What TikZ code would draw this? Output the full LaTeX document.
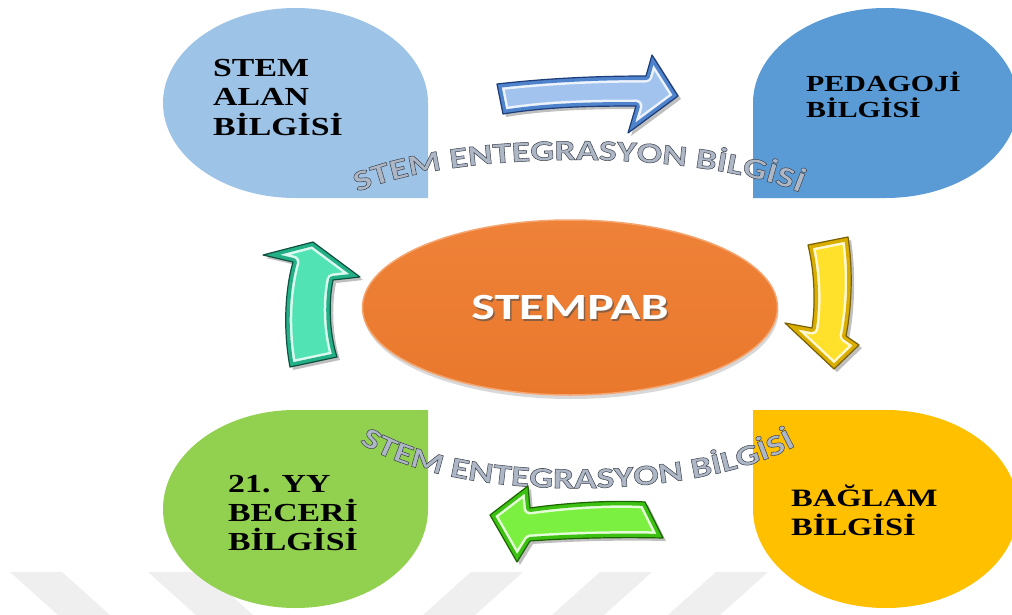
\documentclass[tikz,border=0pt]{standalone}
\usepackage{fontspec}
\setmainfont{Liberation Serif}
\newfontfamily\lblfont[FakeStretch=1.3]{Liberation Serif}
\newfontfamily\arcfont[FakeStretch=1.3,FakeBold=1.8]{Carlito}
\newfontfamily\ctrfont[FakeStretch=1.35]{Carlito}
\usetikzlibrary{decorations.text,shapes.geometric,shadows}
\definecolor{tlblue}{HTML}{9DC3E6}
\definecolor{trblue}{HTML}{5B9BD5}
\definecolor{blgreen}{HTML}{92D050}
\definecolor{bryellow}{HTML}{FFC000}
\definecolor{orangeA}{HTML}{EE8238}
\definecolor{orangeB}{HTML}{E9782C}
\definecolor{orangeRim}{HTML}{F5A56F}
\definecolor{arcgray}{HTML}{AEB7C6}
\definecolor{blueL}{HTML}{A2C3EE}
\definecolor{blueM}{HTML}{4F83CC}
\definecolor{blueD}{HTML}{1D3C78}
\definecolor{yelL}{HTML}{FFE02A}
\definecolor{yelM}{HTML}{D9AE00}
\definecolor{yelD}{HTML}{7A6000}
\definecolor{tealL}{HTML}{52E3B4}
\definecolor{tealM}{HTML}{24B086}
\definecolor{tealD}{HTML}{0F5040}
\definecolor{grnL}{HTML}{7CF040}
\definecolor{grnM}{HTML}{3CC012}
\definecolor{grnD}{HTML}{1C6400}
\definecolor{wmark}{HTML}{EFEFEF}
\newcommand\bevelarrow[4]{%
  \fill[black,opacity=.25,shift={(3,3)}] #1;
  \fill[#2] #1;
  \begin{scope}\clip #1; \draw[white,opacity=.8,line width=13pt,line join=round] #1; \end{scope}
  \begin{scope}\clip #1; \draw[#3,line width=8pt,line join=round] #1; \end{scope}
  \draw[#4,line width=1.2pt,line join=round] #1;
}
% outlined grey lettering: fill colour grey, stroke colour dark
\newcommand\arcfmt{\arcfont\bfseries\fontsize{29}{29}\selectfont\color{arcgray}\special{pdf:code 0.25 0.27 0.31 RG}}
\newcommand\arctext[1]{%
  \path[decorate,decoration={text along path,text align=center,
    text={|\arcfmt|STEM ENTEGRASYON B{İ}LG{İ}S{İ}}}] #1;
}
\tikzset{
  lbl/.style={anchor=base west,inner sep=0pt,text=black,
    font=\lblfont\bfseries\fontsize{#1}{#1}\selectfont},
}
\begin{document}
\begin{tikzpicture}[x=1pt,y=-1pt]
\useasboundingbox (0,0) rectangle (1012,615);
\fill[white] (0,0) rectangle (1012,615);
% faint watermark bands
\fill[wmark] (10,572) -- (62,572) -- (110,615) -- (58,615) -- cycle;
\fill[wmark] (148,572) -- (205,572) -- (253,615) -- (196,615) -- cycle;
\fill[wmark] (471,572) -- (523,572) -- (475,615) -- (423,615) -- cycle;
\fill[wmark] (600,572) -- (652,572) -- (604,615) -- (552,615) -- cycle;
\fill[wmark] (716,572) -- (768,572) -- (720,615) -- (668,615) -- cycle;
% four corner shapes
\fill[tlblue] (428,198) -- (428,103) arc[start angle=0,end angle=-270,x radius=132.5,y radius=95] -- cycle;
\fill[trblue] (753,198) -- (753,103) arc[start angle=180,end angle=450,x radius=132.5,y radius=95] -- cycle;
\fill[blgreen] (428,410) -- (295.5,410) arc[start angle=270,end angle=0,x radius=132.5,y radius=99] -- cycle;
\fill[bryellow] (753,410) -- (885.5,410) arc[start angle=270,end angle=540,x radius=132.5,y radius=99] -- cycle;
% labels
\node[lbl=26] (tl1) at (213,77) {STEM};
\node[lbl=26] (tl2) at (213,106) {ALAN};
\node[lbl=26] (tl3) at (213,136) {BİLGİSİ};
\node[lbl=23] (tr1) at (806,92) {PEDAGOJİ};
\node[lbl=23] (tr2) at (806,118) {BİLGİSİ};
\node[lbl=26] (bl1) at (228,492) {21. YY};
\node[lbl=26] (bl2) at (228,521) {BECERİ};
\node[lbl=26] (bl3) at (228,550) {BİLGİSİ};
\node[lbl=25] (br1) at (791,506) {BAĞLAM};
\node[lbl=25] (br2) at (791,535) {BİLGİSİ};
% centre ellipse
\node[ellipse,minimum width=415,minimum height=175,inner sep=0pt,
  top color=orangeA,bottom color=orangeB,draw=orangeRim,line width=1.5pt,
  drop shadow={shadow xshift=1pt,shadow yshift=-4pt,opacity=.3}] (ctr) at (570,307.5) {};
\node[text=black!70,opacity=.6,font=\ctrfont\bfseries\fontsize{37}{37}\selectfont] (ctrs) at ([shift={(1.5,1.5)}]ctr.center) {STEMPAB};
\node[text=white,font=\ctrfont\bfseries\fontsize{37}{37}\selectfont] (ctrt) at (ctr.center) {STEMPAB};
% block arrows
\bevelarrow{(497,84) .. controls (550,78) and (600,76) .. (646,76) -- (652,55) -- (678,96) -- (628,133) -- (636,106) .. controls (590,106) and (545,107) .. (503,114) -- cycle}{blueL}{blueM}{blueD}
\bevelarrow{(808,245) -- (848,237) .. controls (853,270) and (852,305) .. (846,336) -- (859,345) -- (834,369) -- (785,323) -- (812,328) .. controls (816,300) and (814,270) .. (808,245) -- cycle}{yelL}{yelM}{yelD}
\bevelarrow{(290,367) .. controls (283,330) and (285,290) .. (293,262) -- (263,255) -- (313,242) -- (360,277) -- (333,280) .. controls (328,305) and (330,335) .. (337,357) -- cycle}{tealL}{tealM}{tealD}
% curved texts
\arctext{(338,202) .. controls (430,146) and (720,146) .. (820,202)}
\arctext{(350,436) .. controls (440,506) and (705,504) .. (806,440)}
\bevelarrow{(645,502) .. controls (610,500) and (565,503) .. (530,508) -- (528,486) -- (490,515) -- (517,562) -- (530,541) .. controls (570,538) and (620,537) .. (663,538) -- cycle}{grnL}{grnM}{grnD}
\end{tikzpicture}
\end{document}
